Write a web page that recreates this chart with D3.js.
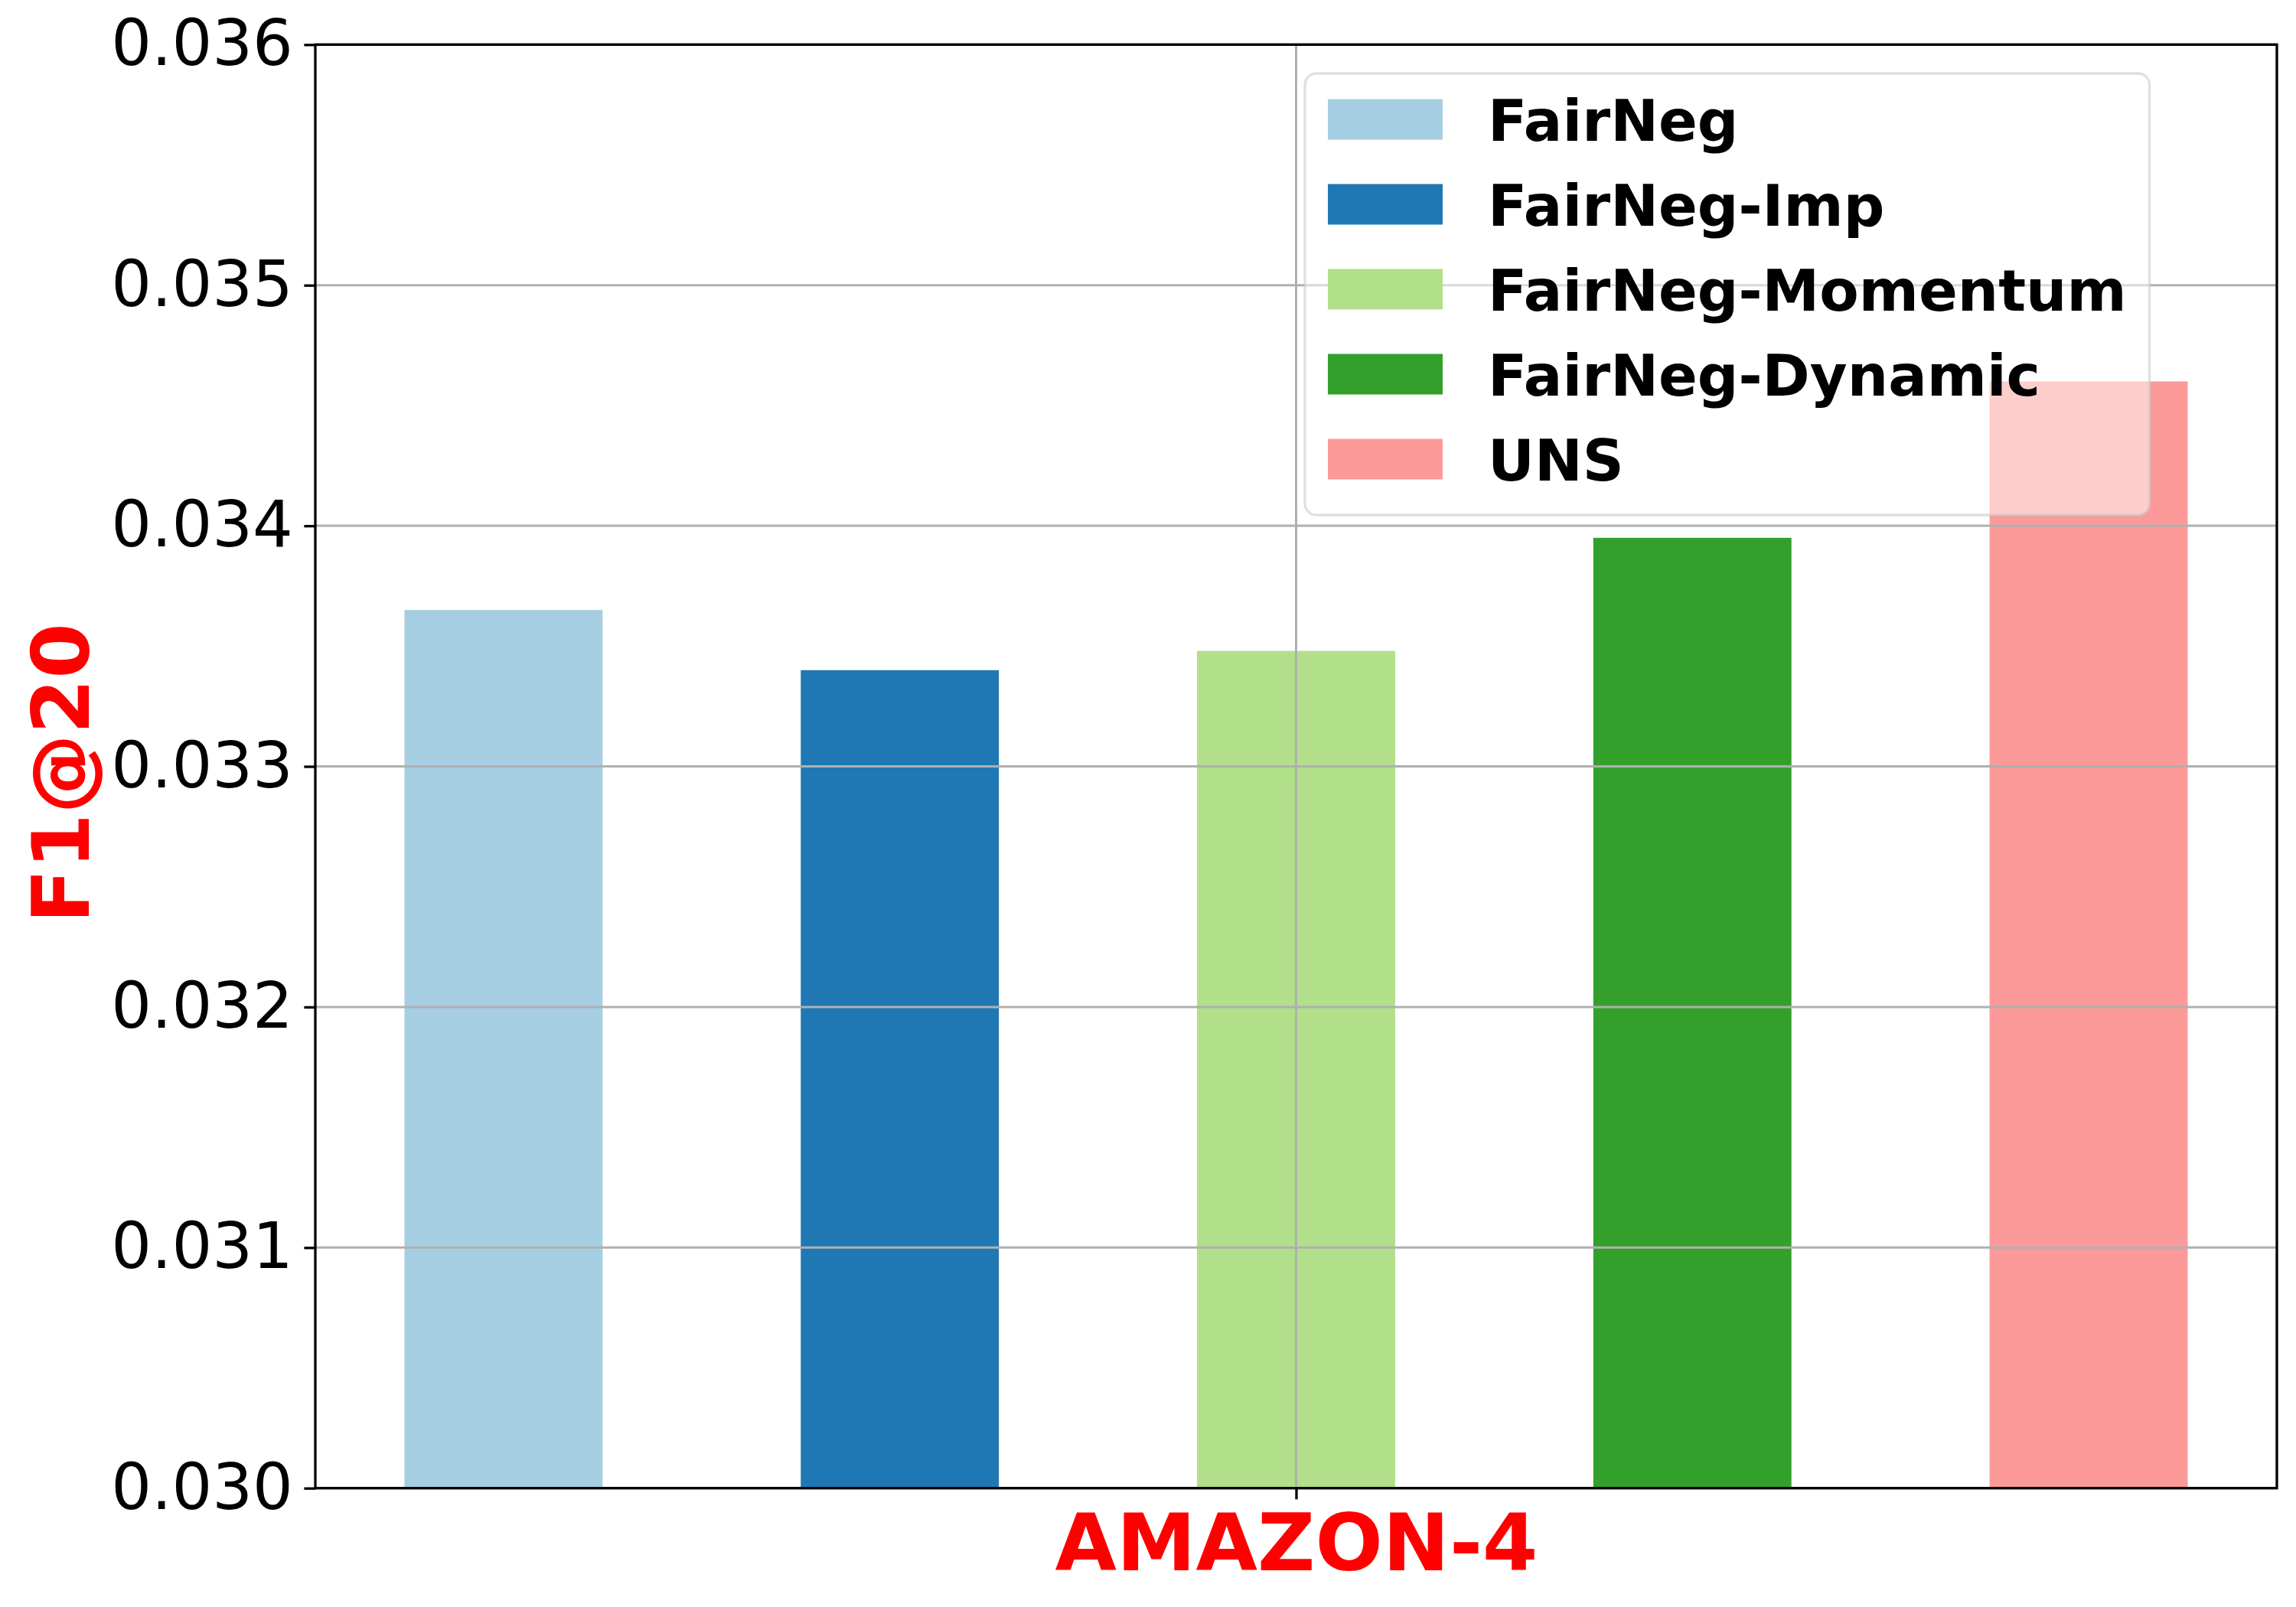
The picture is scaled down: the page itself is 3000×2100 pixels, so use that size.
<!DOCTYPE html>
<html>
<head>
<script src="https://d3js.org/d3.v7.min.js"></script>
<style>
  body { margin: 0; background: #fff; }
  text { font-family: "DejaVu Sans", sans-serif; }
</style>
</head>
<body>
<script>
const W = 3000, H = 2100
const margin = { left: 412, right: 25, top: 58.3, bottom: 155.3 }

// data
const methods = ["FairNeg", "FairNeg-Imp", "FairNeg-Momentum", "FairNeg-Dynamic", "UNS"]
const values = [0.03365, 0.03340, 0.03348, 0.03395, 0.03460]
const colors = ["#a6cee3", "#1f78b4", "#b2df8a", "#33a02c", "#fb9a99"]
const yTicks = [0.030, 0.031, 0.032, 0.033, 0.034, 0.035, 0.036]
const dataset = "AMAZON-4"
const yLabel = "F1@20"

const barWidth = 0.5
const svg = d3.select("body").append("svg").attr("width", W).attr("height", H)

const x = d3.scaleLinear()
    .domain([-0.475, methods.length - 1 + 0.475])
    .range([margin.left, W - margin.right])
const y = d3.scaleLinear()
    .domain([0.030, 0.036])
    .range([H - margin.bottom, margin.top])

// bars
svg.append("g").selectAll("rect")
    .data(values)
    .join("rect")
    .attr("x", (d, i) => x(i - barWidth / 2))
    .attr("width", (d, i) => x(i + barWidth / 2) - x(i - barWidth / 2))
    .attr("y", d => y(d))
    .attr("height", d => y(0.030) - y(d))
    .attr("fill", (d, i) => colors[i])

// grid, drawn over the bars like matplotlib does
const grid = svg.append("g").attr("stroke", "#b0b0b0").attr("stroke-width", 3)
grid.selectAll(".hg").data(yTicks).join("line")
    .attr("x1", x.range()[0]).attr("x2", x.range()[1])
    .attr("y1", d => y(d)).attr("y2", d => y(d))
const midX = x((methods.length - 1) / 2)
grid.append("line")
    .attr("x1", midX).attr("x2", midX)
    .attr("y1", y.range()[0]).attr("y2", y.range()[1])

// y axis
const yAxis = svg.append("g")
    .attr("transform", `translate(${margin.left},0)`)
    .call(d3.axisLeft(y).tickValues(yTicks).tickFormat(d3.format(".3f"))
        .tickSize(14.6).tickPadding(14.6))
yAxis.select(".domain").remove()
yAxis.selectAll(".tick line").attr("stroke", "#000").attr("stroke-width", 3.3)
yAxis.selectAll(".tick text")
    .attr("font-family", "DejaVu Sans").attr("font-size", 83).attr("fill", "#000")

// x axis: one tick in the middle
const xAxis = svg.append("g")
    .attr("transform", `translate(0,${H - margin.bottom})`)
    .call(d3.axisBottom(x).tickValues([(methods.length - 1) / 2]).tickFormat(() => dataset)
        .tickSize(14.6).tickPadding(14.6))
xAxis.select(".domain").remove()
xAxis.selectAll(".tick line").attr("stroke", "#000").attr("stroke-width", 3.3)
xAxis.selectAll(".tick text")
    .attr("font-family", "DejaVu Sans").attr("font-size", 104).attr("font-weight", "bold")
    .attr("fill", "#ff0000").attr("dy", "0.75em")

// frame
svg.append("rect")
    .attr("x", x.range()[0]).attr("y", y.range()[1])
    .attr("width", x.range()[1] - x.range()[0])
    .attr("height", y.range()[0] - y.range()[1])
    .attr("fill", "none").attr("stroke", "#000").attr("stroke-width", 3.3)

// y label
svg.append("text")
    .attr("transform", `translate(116,${(y.range()[0] + y.range()[1]) / 2 + 9}) rotate(-90)`)
    .attr("text-anchor", "middle")
    .attr("font-size", 104).attr("font-weight", "bold").attr("fill", "#ff0000")
    .text(yLabel)

// legend
const lg = svg.append("g")
const fs = 75, rowH = 111, lgX = 1705, lgY = 96
const box = lg.append("rect")
    .attr("x", lgX).attr("y", lgY)
    .attr("rx", 15).attr("ry", 15)
    .attr("fill", "#fff").attr("fill-opacity", 0.5)
    .attr("stroke", "#ccc").attr("stroke-opacity", 0.6).attr("stroke-width", 3.3)
let maxEnd = 0
methods.forEach((m, i) => {
    const cy = 156 + i * rowH
    lg.append("rect")
        .attr("x", lgX + 30).attr("y", cy - 26.5)
        .attr("width", 150).attr("height", 53)
        .attr("fill", colors[i])
    const t = lg.append("text")
        .attr("x", 1944).attr("y", cy + 27.5)
        .attr("font-size", fs).attr("font-weight", "bold").attr("fill", "#000")
        .text(m)
    maxEnd = Math.max(maxEnd, 1944 + t.node().getComputedTextLength())
})
box.attr("width", maxEnd + 30 - lgX).attr("height", 673 - lgY)
</script>
</body>
</html>
